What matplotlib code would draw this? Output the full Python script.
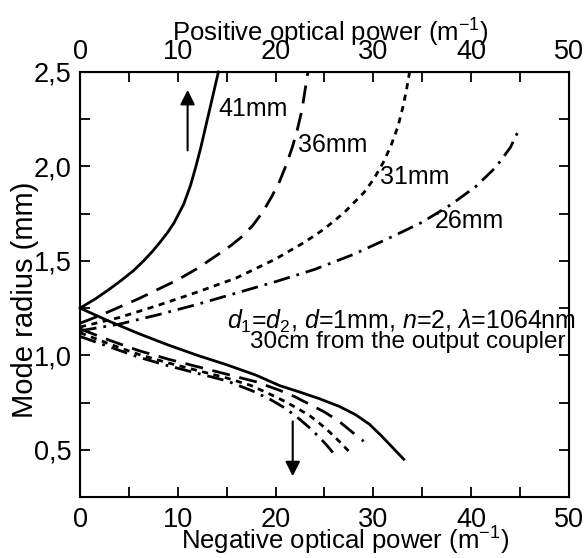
import numpy as np
import matplotlib
matplotlib.use('Agg')
import matplotlib.pyplot as plt
from matplotlib.ticker import MultipleLocator, FuncFormatter

plt.rcParams['font.family'] = ['Liberation Sans', 'DejaVu Sans']
plt.rcParams['mathtext.fontset'] = 'custom'
plt.rcParams['mathtext.rm'] = 'Liberation Sans'
plt.rcParams['mathtext.it'] = 'Liberation Sans:italic'

# upward branches (positive optical power)
x41_up = [0, 1.6, 3.0, 4.3, 5.5, 6.5, 7.4, 8.2, 8.95, 9.6, 10.6, 11.3, 11.85, 12.35, 12.8, 13.25, 13.7, 14.15]
y41_up = [1.25, 1.30, 1.35, 1.40, 1.45, 1.50, 1.55, 1.60, 1.65, 1.70, 1.80, 1.90, 2.0, 2.1, 2.2, 2.3, 2.4, 2.5]
x36_up = [0, 2, 4, 6, 8, 10, 12, 14, 15.4, 16.6, 17.7, 18.7, 19.6, 20.4, 21.1, 21.7, 22.2, 22.7, 23.0, 23.3]
y36_up = [1.17, 1.21, 1.255, 1.30, 1.35, 1.40, 1.46, 1.53, 1.58, 1.63, 1.69, 1.76, 1.84, 1.92, 2.01, 2.10, 2.19, 2.30, 2.40, 2.5]
x31_up = [0, 4, 8, 12, 16, 20, 23, 25, 27, 29, 30, 31, 31.8, 32.5, 33.0, 33.4, 33.7]
y31_up = [1.15, 1.20, 1.265, 1.335, 1.41, 1.51, 1.60, 1.67, 1.755, 1.86, 1.93, 2.02, 2.11, 2.21, 2.31, 2.41, 2.5]
x26_up = [0, 4, 8, 12, 16, 20, 24, 28, 32, 35, 38, 40.5, 42.5, 44.0, 44.8]
y26_up = [1.13, 1.165, 1.215, 1.27, 1.33, 1.39, 1.455, 1.535, 1.63, 1.705, 1.80, 1.895, 1.995, 2.10, 2.185]

# downward branches (negative optical power)
x41_dn = [0, 3, 6, 9, 12, 15, 18, 20.4, 22.5, 24.5, 26.5, 28.2, 29.6, 30.8, 32.0, 33.1]
y41_dn = [1.25, 1.18, 1.115, 1.055, 1.0, 0.95, 0.895, 0.84, 0.805, 0.77, 0.73, 0.685, 0.635, 0.575, 0.51, 0.45]
x36_dn = [0, 3, 6, 9, 12, 15, 18, 20.4, 22, 23.5, 25, 26.5, 27.8, 29.0]
y36_dn = [1.14, 1.08, 1.025, 0.98, 0.94, 0.90, 0.86, 0.815, 0.78, 0.74, 0.70, 0.65, 0.595, 0.545]
x31_dn = [0, 3, 6, 9, 12, 15, 17.5, 19.4, 21, 22.2, 23.5, 24.5, 25.5, 26.6, 27.7]
y31_dn = [1.12, 1.06, 1.005, 0.96, 0.92, 0.88, 0.84, 0.795, 0.755, 0.72, 0.68, 0.64, 0.595, 0.54, 0.48]
x26_dn = [0, 3, 6, 9, 12, 15, 17.7, 19.5, 21, 22.5, 23.5, 24.5, 25.3, 26.1]
y26_dn = [1.10, 1.045, 0.99, 0.945, 0.905, 0.865, 0.81, 0.765, 0.72, 0.66, 0.615, 0.565, 0.52, 0.47]

labels = ['41mm', '36mm', '31mm', '26mm']
label_x = [14.1, 22.3, 30.7, 36.3]
label_y = [2.305, 2.115, 1.945, 1.71]

fig = plt.figure(figsize=(5.85, 5.58), dpi=100)
ax = fig.add_axes([0.1368, 0.1093, 0.8358, 0.7617])

lw = 2.0
styles = ['-', (0, (6.5, 3.5)), (0, (2.2, 2)), (0, (6, 2.5, 1, 2.5))]
ups = [(x41_up, y41_up), (x36_up, y36_up), (x31_up, y31_up), (x26_up, y26_up)]
dns = [(x41_dn, y41_dn), (x36_dn, y36_dn), (x31_dn, y31_dn), (x26_dn, y26_dn)]
for (xu, yu), (xd, yd), ls in zip(ups, dns, styles):
    ax.plot(xu, yu, color='black', lw=lw, linestyle=ls, clip_on=False)
    ax.plot(xd, yd, color='black', lw=lw, linestyle=ls)

for t, x, y in zip(labels, label_x, label_y):
    ax.text(x, y, t, fontsize=18, va='center', ha='left')

ax.text(15.0, 1.18, r'$d_1$=$d_2$, $d$=1mm, $n$=2, $\lambda$=1064nm',
        fontsize=18, va='center', ha='left', clip_on=False)
ax.text(17.4, 1.07, '30cm from the output coupler', fontsize=17.5, va='center', ha='left')

ax.annotate('', xy=(11.0, 2.42), xytext=(11.0, 2.07),
            arrowprops=dict(arrowstyle='-|>', color='black', lw=1.5, mutation_scale=22))
ax.annotate('', xy=(21.75, 0.345), xytext=(21.75, 0.665),
            arrowprops=dict(arrowstyle='-|>', color='black', lw=1.5, mutation_scale=22))

ax.set_xlim(0, 50)
ax.set_ylim(0.25, 2.5)
ax.xaxis.set_major_locator(MultipleLocator(10))
ax.xaxis.set_minor_locator(MultipleLocator(5))
ax.yaxis.set_major_locator(MultipleLocator(0.5))
ax.yaxis.set_minor_locator(MultipleLocator(0.25))
ax.yaxis.set_major_formatter(FuncFormatter(lambda v, p: ('%.1f' % v).replace('.', ',')))
ax.tick_params(which='both', direction='in', length=7, width=1.3, labelsize=19.5,
               right=True, pad=6)
ax.tick_params(axis='x', pad=7)
for s in ax.spines.values():
    s.set_linewidth(1.5)

ax.set_xlabel(r'Negative optical power (m$^{-1}$)', fontsize=18.5, labelpad=-6)
ax.xaxis.label.set_x(0.542)
ax.set_ylabel('Mode radius (mm)', fontsize=21, labelpad=-4)
ax.yaxis.label.set_y(0.463)

top = ax.twiny()
top.set_xlim(0, 50)
top.xaxis.set_major_locator(MultipleLocator(10))
top.xaxis.set_minor_locator(MultipleLocator(5))
top.tick_params(which='both', direction='in', length=7, width=1.3, labelsize=19.5, pad=5)
top.set_xlabel(r'Positive optical power (m$^{-1}$)', fontsize=18.5, labelpad=-2)
top.xaxis.label.set_x(0.513)

fig.savefig('out.png', dpi=100)
